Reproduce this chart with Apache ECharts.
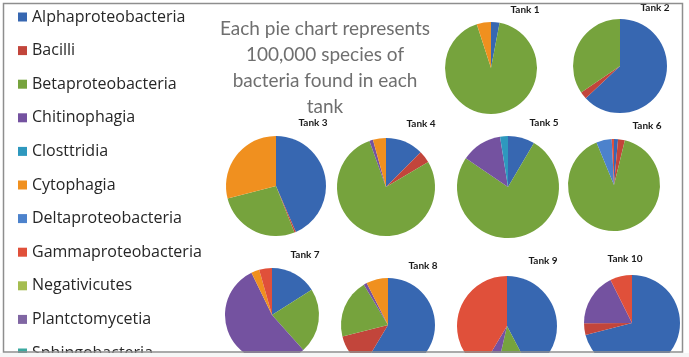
<!DOCTYPE html>
<html><head><meta charset="utf-8">
<script src="https://cdn.jsdelivr.net/npm/echarts@6/dist/echarts.min.js"></script>
<style>html,body{margin:0;padding:0;background:#f6f6f6;width:689px;height:357px;overflow:hidden}
#c{position:absolute;left:0;top:0;width:689px;height:353px;}</style></head>
<body><div id="c"></div>
<script>
// ---- data ----
const categories = ['Alphaproteobacteria','Bacilli','Betaproteobacteria','Chitinophagia','Closttridia','Cytophagia','Deltaproteobacteria','Gammaproteobacteria','Negativicutes','Plantctomycetia','Sphingobacteria'];
const tankNames = ['Tank 1','Tank 2','Tank 3','Tank 4','Tank 5','Tank 6','Tank 7','Tank 8','Tank 9','Tank 10'];
//             Alp  Bac  Bet   Chi  Clo  Cyt  Del  Gam  Neg Pla Sph
const tank1  = [3,   0,   92,   0,   0,   5,   0,   0,   0,  0,  0];
const tank2  = [63,  2.5, 34.5, 0,   0,   0,   0,   0,   0,  0,  0];
const tank3  = [43.5,0.5, 27,   0,   0,   29,  0,   0,   0,  0,  0];
const tank4  = [12.5,4,   78,   1.2, 0,   4.3, 0,   0,   0,  0,  0];
const tank5  = [8.5, 0,   76,   13,  2.5, 0,   0,   0,   0,  0,  0];
const tank6  = [1.4, 2.4, 90,   0,   0,   0,   5.4, 0.8, 0,  0,  0];
const tank7  = [16,  0,   22.4, 54.4,0,   2.8, 0,   4.4, 0,  0,  0];
const tank8  = [58.6,12.5,20.3, 1.1, 0,   7.5, 0,   0,   0,  0,  0];
const tank9  = [42.3,0,   11.3, 5,   0,   0,   0,   41.4,0,  0,  0];
const tank10 = [71,  3.9, 0,    17.7,0,   0,   0,   7.4, 0,  0,  0];
const noteText = ['Each pie chart represents','100,000 species of','bacteria found in each','tank'];

// ---- styling ----
const palette = ['#3767B1','#C2453B','#76A33D','#7452A0','#2E98BE','#F0901F','#4C82CC','#E0503A','#A5BD50','#8066A3','#3BA9A0'];
const tanks = [tank1,tank2,tank3,tank4,tank5,tank6,tank7,tank8,tank9,tank10];
const pieLayout = [
  {c:[491,68],  r:46, t:[525,10]},
  {c:[620,66],  r:47, t:[655,8]},
  {c:[276,186], r:50, t:[313,123]},
  {c:[386,187], r:49, t:[421,124]},
  {c:[508,187], r:51, t:[544,123]},
  {c:[614,185], r:46, t:[647,126]},
  {c:[272,315], r:47, t:[305,255]},
  {c:[388,325], r:47, t:[423,266]},
  {c:[507,326], r:50, t:[543,261]},
  {c:[632,323], r:48, t:[625,259]}
];

const series = tanks.map((vals, i) => ({
  type: 'pie',
  name: tankNames[i],
  center: pieLayout[i].c,
  radius: [0, pieLayout[i].r],
  startAngle: 90,
  clockwise: true,
  minAngle: 0,
  silent: true,
  animation: false,
  label: {show: false},
  labelLine: {show: false},
  emphasis: {disabled: true},
  itemStyle: {borderWidth: 0},
  data: categories.map((name, k) => ({name, value: vals[k], itemStyle: {color: palette[k]}}))
}));

const graphics = [
  {type:'rect', z:100, shape:{x:3.5,y:3.5,width:679,height:348.5}, style:{fill:'none', stroke:'#8e8e8e', lineWidth:1.5}},
  {type:'text', z:50, x:325, y:16, style:{text: noteText.join('\n'), fill:'#6f6f6f', font:'19px Lato', align:'center', textAlign:'center', verticalAlign:'top', textVerticalAlign:'top', lineHeight:26}}
];
tankNames.forEach((n, i) => {
  graphics.push({type:'text', z:50, x:pieLayout[i].t[0], y:pieLayout[i].t[1],
    style:{text:n, fill:'#1b1b1b', font:'bold 10px Lato', align:'center', textAlign:'center', verticalAlign:'middle', textVerticalAlign:'middle'}});
});

const chart = echarts.init(document.getElementById('c'), null, {renderer:'canvas'});
chart.setOption({
  backgroundColor: '#ffffff',
  animation: false,
  legend: {
    orient: 'vertical',
    left: 18, top: 9, height: 600,
    padding: 0,
    itemGap: 17.6,
    itemWidth: 9, itemHeight: 9,
    icon: 'rect',
    selectedMode: false,
    data: categories,
    textStyle: {fontFamily: 'Open Sans', fontSize: 16, color: '#262626'}
  },
  graphic: graphics,
  series
});
</script></body></html>
